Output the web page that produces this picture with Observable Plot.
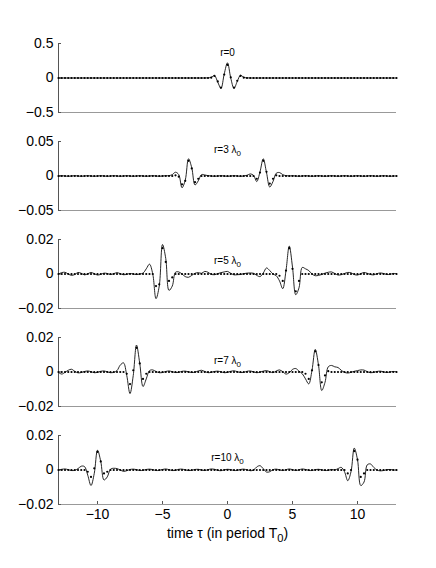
<!DOCTYPE html>
<html><head><meta charset="utf-8">
<script src="https://cdn.jsdelivr.net/npm/d3@7"></script>
<script src="https://cdn.jsdelivr.net/npm/@observablehq/plot@0.6"></script>
<style>
html,body{margin:0;padding:0;background:#fff;}
#chart{position:relative;width:436px;height:568px;font-family:"Liberation Sans",Arial,sans-serif;}
#chart svg{position:absolute;left:0;}
</style></head><body><div id="chart"></div>
<script>
// sample times (in periods T0)
const tau = [
-13,-12.75,-12.5,-12.25,-12,-11.75,-11.5,-11.25,
-11,-10.75,-10.5,-10.25,-10,-9.75,-9.5,-9.25,
-9,-8.75,-8.5,-8.25,-8,-7.75,-7.5,-7.25,
-7,-6.75,-6.5,-6.25,-6,-5.75,-5.5,-5.25,
-5,-4.75,-4.5,-4.25,-4,-3.75,-3.5,-3.25,
-3,-2.75,-2.5,-2.25,-2,-1.75,-1.5,-1.25,
-1,-0.75,-0.5,-0.25,0,0.25,0.5,0.75,
1,1.25,1.5,1.75,2,2.25,2.5,2.75,
3,3.25,3.5,3.75,4,4.25,4.5,4.75,
5,5.25,5.5,5.75,6,6.25,6.5,6.75,
7,7.25,7.5,7.75,8,8.25,8.5,8.75,
9,9.25,9.5,9.75,10,10.25,10.5,10.75,
11,11.25,11.5,11.75,12,12.25,12.5,12.75,
13];

// r = 0
const line1 = [
0,0,0,0,0,0,0,0,
0,0,0,0,0,0,0,0,
0,0,0,0,0,0,0,0,
0,0,0,0,0,0,0,0,
0,0,0,0,0,0,0,0,
0,0,0,0,0,0,0.002,0.01,
0.035,-0.06,-0.15,0.06,0.22,0,-0.15,-0.05,
0.04,0.01,0.002,0,0,0,0,0,
0,0,0,0,0,0,0,0,
0,0,0,0,0,0,0,0,
0,0,0,0,0,0,0,0,
0,0,0,0,0,0,0,0,
0,0,0,0,0,0,0,0,
0];
const dots1 = [
0,0,0,0,0,0,0,0,
0,0,0,0,0,0,0,0,
0,0,0,0,0,0,0,0,
0,0,0,0,0,0,0,0,
0,0,0,0,0,0,0,0,
0,0,0,0,0,0,0,0.005,
0.03,-0.05,-0.14,0.05,0.19,0.01,-0.14,-0.04,
0.03,0.005,0,0,0,0,0,0,
0,0,0,0,0,0,0,0,
0,0,0,0,0,0,0,0,
0,0,0,0,0,0,0,0,
0,0,0,0,0,0,0,0,
0,0,0,0,0,0,0,0,
0];

// r = 3 lambda0
const line2 = [
0,0.0004,0,-0.0004,0,0.0004,0,-0.0004,
0,0.0004,0,-0.0004,0,0.0004,0,-0.0004,
0,0.0004,0,-0.0004,0,0.0004,0,-0.0004,
0,0.0004,0,-0.0004,0,0.0004,0,-0.0004,
0,0.0004,0.0005,0.002,0.0055,0.002,-0.017,-0.006,
0.025,0.012,-0.013,-0.007,0.002,0.0015,0.0005,0,
-0.0004,0,0.0004,0,-0.0004,0,0.0004,0,
-0.0004,0,0.001,0.003,0.001,-0.008,0.006,0.025,
0.005,-0.016,-0.008,0.004,0.005,0.002,0.0005,0,
0.0004,0,-0.0004,0,0.0004,0,-0.0004,0,
0.0004,0,-0.0004,0,0.0004,0,-0.0004,0,
0.0004,0,-0.0004,0,0.0004,0,-0.0004,0,
0.0004,0,-0.0004,0,0.0004,0,-0.0004,0,
0];
const dots2 = [
0,0,0,0,0,0,0,0,
0,0,0,0,0,0,0,0,
0,0,0,0,0,0,0,0,
0,0,0,0,0,0,0,0,
0,0,0,0,0.001,-0.001,-0.012,-0.007,
0.022,0.011,-0.009,-0.004,0,0,0,0,
0,0,0,0,0,0,0,0,
0,0,0,0,0,-0.004,0.005,0.022,
0.006,-0.011,-0.004,0.001,0,0,0,0,
0,0,0,0,0,0,0,0,
0,0,0,0,0,0,0,0,
0,0,0,0,0,0,0,0,
0,0,0,0,0,0,0,0,
0];

// r = 5 lambda0
const line3 = [
0,0.0008,0.001,0,-0.0008,-0.0003,0.0009,0.0004,
-0.0005,0.0001,0.0009,0.0002,-0.0006,-0.0002,0.0005,0.0003,
-0.0003,0.0002,0.0008,0.0002,-0.0004,-0.0002,0.0003,0,
-0.0003,0,0.0005,0.003,0.0057,0,-0.0143,-0.007,
0.0171,0.009,-0.0095,-0.007,0.001,0.0012,0,-0.0015,
-0.0019,-0.0008,0.0004,0.0008,0.0004,0.0015,0.001,-0.0002,
-0.0004,0.0002,0.0008,0.0012,0.0015,0.0004,-0.0005,-0.0004,
-0.0003,0.0002,0.0005,0.0006,0.0004,-0.0008,-0.0015,0.0005,
0.0035,0.002,0,-0.001,-0.004,-0.0085,0.002,0.0162,
0.004,-0.012,-0.008,0.0038,0.003,0.002,0,-0.001,
-0.0008,-0.0003,0.0005,0.001,0.0012,0.0003,-0.0006,-0.0004,
0.0003,0.0009,0.0007,-0.0003,-0.0006,0.0002,0.0009,0.0004,
-0.0003,-0.0005,0.0002,0.0006,0.0003,-0.0003,-0.0002,0.0003,
0.0002];
const dots3 = [
0,0,0,0,0,0,0,0,
0,0,0,0,0,0,0,0,
0,0,0,0,0,0,0,0,
0,0,0,0,0,0,-0.007,-0.006,
0.015,0.007,-0.004,-0.002,0,0,0,0,
0,0,0,0,0,0,0,0,
0,0,0,0,0,0,0,0,
0,0,0,0,0,0,0,0,
0,0,0,0,-0.001,-0.004,0.002,0.015,
0.003,-0.01,-0.004,0,0,0,0,0,
0,0,0,0,0,0,0,0,
0,0,0,0,0,0,0,0,
0,0,0,0,0,0,0,0,
0];

// r = 7 lambda0
const line4 = [
-0.0003,-0.0012,-0.0002,0.001,0.0016,0.0004,-0.0005,-0.0003,
0.0003,0.0006,0.0002,-0.0004,-0.0002,0.0004,0.0006,0.0001,
-0.0004,-0.0002,0.0008,0.004,0.0053,-0.002,-0.0125,-0.002,
0.0156,0.005,-0.0084,-0.004,0.0008,0.0012,0.0003,-0.0004,
-0.0003,0.0003,0.0006,0.0002,-0.0003,-0.0002,0.0004,0.0005,
0.0001,-0.0003,-0.0001,0.0006,0.001,0.0003,-0.0004,-0.0002,
0.0003,0.0005,0.0001,-0.0004,-0.0002,0.0004,0.0007,0.0002,
-0.0003,-0.0002,0.0004,0.0006,0.0001,-0.0004,-0.0001,0.0005,
0.0008,0.0002,-0.0004,0.0006,0.0012,0.0002,-0.0012,-0.0004,
0.0015,0.002,0.0005,-0.001,-0.004,-0.0069,0.001,0.0131,
0.004,-0.0107,-0.006,0.003,0.0038,0.003,0.0026,0.001,
-0.0002,-0.0006,-0.0002,0.0004,0.0008,0.0012,0.0011,0.0002,
-0.0004,-0.0002,0.0003,0.0005,0.0001,-0.0003,0,0.0003,
0.0001];
const dots4 = [
0,0,0,0,0,0,0,0,
0,0,0,0,0,0,0,0,
0,0,0,0,0,-0.001,-0.007,0.001,
0.014,0.005,-0.004,-0.001,0,0,0,0,
0,0,0,0,0,0,0,0,
0,0,0,0,0,0,0,0,
0,0,0,0,0,0,0,0,
0,0,0,0,0,0,0,0,
0,0,0,0,0,0,0,0,
0,0,0,0,-0.001,-0.004,0.001,0.012,
0.004,-0.006,-0.002,0.0005,0,0,0,0,
0,0,0,0,0,0,0,0,
0,0,0,0,0,0,0,0,
0];

// r = 10 lambda0
const line5 = [
0,0.0004,0.0006,0.0002,-0.0003,-0.0002,0.0008,0.0022,
0.002,-0.003,-0.009,-0.002,0.0115,0.005,-0.0058,-0.004,
0.0005,0.001,0.0008,0,-0.0008,-0.0004,0.0003,0.0005,
0.0002,-0.0003,-0.0002,0.0003,0.0005,0.0002,-0.0003,-0.0002,
0.0003,0.0006,0.0002,-0.0003,-0.0002,0.0004,0.0005,0.0001,
-0.0003,-0.0002,0.0003,0.0004,0,-0.0003,0.0002,0.0006,
0.0004,-0.0002,-0.0004,0.0001,0.0004,0.0002,-0.0003,-0.0002,
0.0003,0.0005,0.0001,-0.0004,-0.0001,0.0018,0.0025,0.0008,
-0.0012,-0.001,0.0002,0.0005,0.0001,-0.0003,0.0002,0.0006,
0.0002,-0.0003,0.0001,0.0006,0.0003,-0.0002,-0.0003,0.0002,
0.0004,0.0001,-0.0003,-0.0002,0.0003,0,0.0008,0.0015,
-0.001,-0.0062,-0.001,0.0127,0.006,-0.009,-0.007,0.003,
0.0035,0.0015,0,-0.0005,-0.0003,0.0002,0.0003,0,
0];
const dots5 = [
0,0,0,0,0,0,0,0,
0,-0.001,-0.004,0.001,0.0105,0.005,-0.002,-0.001,
0,0,0,0,0,0,0,0,
0,0,0,0,0,0,0,0,
0,0,0,0,0,0,0,0,
0,0,0,0,0,0,0,0,
0,0,0,0,0,0,0,0,
0,0,0,0,0,0,0,0,
0,0,0,0,0,0,0,0,
0,0,0,0,0,0,0,0,
0,0,0,0,0,0,0,0,
0,-0.002,0,0.011,0.006,-0.004,-0.002,0,
0,0,0,0,0,0,0,0,
0];

const panelLabels = ["r=0", "r=3 λ₀", "r=5 λ₀", "r=7 λ₀", "r=10 λ₀"];
const yTicks = [[-0.5,0,0.5],[-0.05,0,0.05],[-0.02,0,0.02],[-0.02,0,0.02],[-0.02,0,0.02]];
const xTicks = [-10,-5,0,5,10];
const xDomain = [-13, 13];
const xLabel = "time τ (in period T₀)";

const lines = [line1, line2, line3, line4, line5];
const dots = [dots1, dots2, dots3, dots4, dots5];

// layout
const frameTops = [43, 141, 239, 337, 435];
const frameH = 69;
const labelDy = [5, 4, 17, 19, 18];
const fmt = d => (d < 0 ? "\u2212" : "") + Math.abs(d);

function subscriptify(svg) {
  svg.querySelectorAll("text").forEach(el => {
    if (el.children.length) return;
    const s = el.textContent;
    if (!s.includes("₀")) return;
    const fs = parseFloat(getComputedStyle(el).fontSize) || 10;
    const shift = fs * 0.3;
    const parts = s.split("₀");
    el.textContent = "";
    const ns = "http://www.w3.org/2000/svg";
    parts.forEach((p, k) => {
      if (k > 0) {
        const sub = document.createElementNS(ns, "tspan");
        sub.setAttribute("dy", shift);
        sub.setAttribute("font-size", fs * 0.8);
        sub.textContent = "0";
        el.appendChild(sub);
      }
      if (p) {
        const t = document.createElementNS(ns, "tspan");
        if (k > 0) t.setAttribute("dy", -shift);
        t.textContent = p;
        el.appendChild(t);
      }
    });
  });
}

const chart = document.getElementById("chart");
lines.forEach((ln, i) => {
  const last = i === lines.length - 1;
  const rows = tau.map((t, j) => ({t, line: ln[j], dot: dots[i][j]}));
  const mt = 30, mb = last ? 64 : 10;
  const yd = [yTicks[i][0], yTicks[i][yTicks[i].length - 1]];
  const svg = Plot.plot({
    width: 436, height: mt + frameH + mb,
    marginTop: mt, marginBottom: mb, marginLeft: 58, marginRight: 40,
    style: {background: "transparent", overflow: "visible", fontFamily: '"Liberation Sans", Arial, sans-serif', fontSize: "14px", color: "black"},
    x: last ? {domain: xDomain} : {domain: xDomain, axis: null},
    y: {domain: yd},
    marks: [
      Plot.ruleY([yd[0]], {stroke: "#999", strokeWidth: 1}),
      Plot.ruleX([xDomain[0]], {stroke: "#555", strokeWidth: 1}),
      Plot.axisY(yTicks[i], {tickSize: -3, tickPadding: 8, tickFormat: fmt, label: null, stroke: "#555"}),
      ...(last ? [Plot.axisX(xTicks, {tickSize: -3, tickPadding: 8, tickFormat: fmt, label: xLabel, labelAnchor: "center", labelOffset: 33, labelArrow: "none", stroke: "#555"})] : []),
      Plot.line(rows, {x: "t", y: "line", curve: "catmull-rom", stroke: "black", strokeWidth: 0.85}),
      Plot.dot(rows, {x: "t", y: "dot", r: 1.1, fill: "black", stroke: "none"}),
      Plot.text([panelLabels[i]], {frameAnchor: "top", dy: labelDy[i], text: d => d, fontSize: 10})
    ]
  });
  svg.style.top = (frameTops[i] - mt) + "px";
  chart.appendChild(svg);
  subscriptify(svg);
});
</script></body></html>
